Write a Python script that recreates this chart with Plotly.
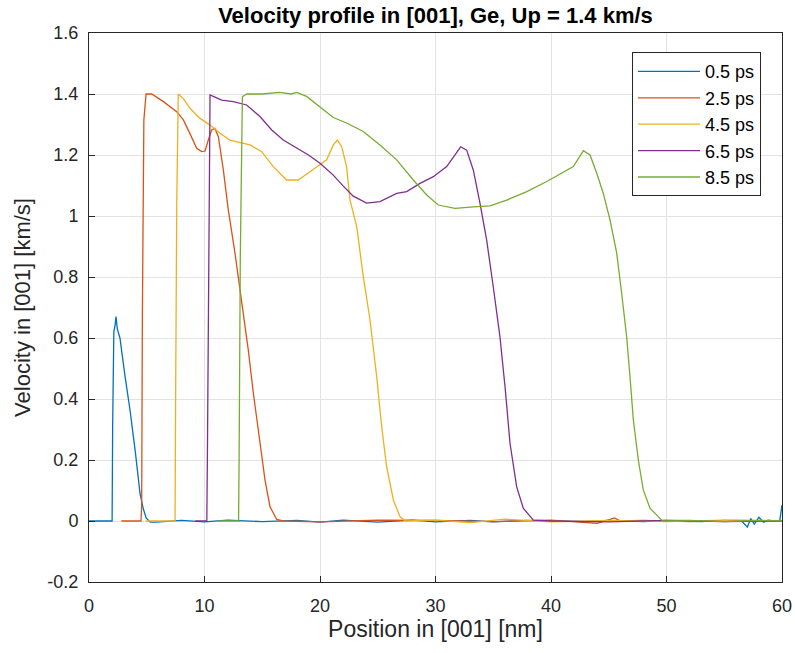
import plotly.graph_objects as go

title = "Velocity profile in [001], Ge, Up = 1.4 km/s"
x_title = "Position in [001] [nm]"
y_title = "Velocity in [001] [km/s]"

names = ["0.5 ps", "2.5 ps", "4.5 ps", "6.5 ps", "8.5 ps"]
colors = ["#0072BD", "#D95319", "#EDB120", "#7E2F8E", "#77AC30"]

x_05 = [0, 2.0, 2.05, 2.15, 2.25, 2.34, 2.45, 2.68, 3.1, 3.55, 4.0, 4.42, 4.7, 4.95, 5.3, 5.8, 8, 10, 12, 15,
        18, 20, 22, 25, 28, 30, 33, 35, 38, 40, 43, 45, 48, 50, 53, 55, 56.5, 57, 57.3, 57.6, 58.0, 58.4,
        58.8, 59.3, 59.8, 60]
y_05 = [0, 0, 0.32, 0.62, 0.64, 0.67, 0.63, 0.6, 0.48, 0.364, 0.23, 0.09, 0.04, 0.01, -0.004, -0.004, 0.002,
        -0.003, 0.003, -0.002, 0.002, -0.004, 0.003, -0.004, 0.003, -0.003, 0.002, -0.003, 0.002, 0.001,
        -0.002, 0.002, -0.002, 0.001, -0.002, 0.002, 0.0, -0.02, 0.008, -0.01, 0.012, -0.004, 0.003, 0.0,
        0.0, 0.052]

x_25 = [2.8, 4.5, 4.56, 4.62, 4.75, 4.94, 5.43, 6.44, 7.59, 8.17, 8.74, 9.32, 9.76, 10.05, 10.33, 10.62, 10.9,
        11.2, 11.63, 12.06, 12.64, 13.22, 13.79, 14.23, 14.8, 15.24, 15.67, 16.25, 16.8, 20, 25, 30, 35, 40,
        44, 45.5, 46, 48, 52, 56, 60]
y_25 = [0, 0, 0.05, 0.67, 1.315, 1.40, 1.40, 1.375, 1.342, 1.315, 1.27, 1.222, 1.211, 1.213, 1.249, 1.282,
        1.287, 1.26, 1.151, 1.02, 0.878, 0.725, 0.561, 0.419, 0.255, 0.134, 0.047, 0.005, 0, -0.003, 0.003,
        0.002, -0.002, 0.003, -0.008, 0.01, 0, 0.002, -0.002, 0.002, 0]

x_45 = [4.9, 7.45, 7.5, 7.6, 7.73, 8.17, 8.74, 9.61, 10.48, 11.34, 12.2, 13.07, 13.94, 14.95, 15.96, 17.11,
        18.12, 19.13, 20.58, 21.15, 21.5, 21.88, 22.3, 22.6, 23.18, 23.75, 24.33, 24.91, 25.34, 25.77, 26.35,
        26.93, 27.4, 30, 33, 36, 40, 45, 50, 55, 60]
y_45 = [0, 0, 0.41, 1.05, 1.40, 1.385, 1.353, 1.32, 1.298, 1.271, 1.249, 1.24, 1.233, 1.211, 1.162, 1.118,
        1.118, 1.145, 1.184, 1.233, 1.249, 1.227, 1.162, 1.052, 0.965, 0.801, 0.659, 0.473, 0.309, 0.178,
        0.069, 0.014, 0, 0.003, -0.005, 0.006, -0.003, 0.002, -0.002, 0.003, 0]

x_65 = [9.2, 10.2, 10.26, 10.36, 10.48, 10.76, 11.49, 12.49, 13.65, 14.8, 15.82, 16.82, 17.98, 19.0, 20.0,
        21.15, 22.02, 22.88, 24.04, 25.19, 26.64, 27.51, 28.66, 29.81, 30.97, 31.54, 32.18, 32.7, 33.27,
        33.85, 34.43, 35.0, 35.58, 36.02, 36.45, 37.03, 37.6, 38.47, 40, 45, 50, 55, 60]
y_65 = [0, 0, 0.255, 0.895, 1.397, 1.392, 1.38, 1.375, 1.364, 1.326, 1.282, 1.249, 1.222, 1.2, 1.173, 1.134,
        1.098, 1.065, 1.042, 1.047, 1.074, 1.08, 1.107, 1.129, 1.162, 1.194, 1.227, 1.216, 1.151, 1.042,
        0.921, 0.768, 0.604, 0.44, 0.255, 0.112, 0.042, 0.003, 0, -0.003, 0.002, -0.002, 0]

x_85 = [11.2, 12.95, 13.0, 13.1, 13.28, 13.65, 15, 16.5, 17.5, 17.98, 18.84, 20.0, 21.15, 22.3, 23.75, 25.19,
        26.64, 28.08, 29.24, 30.24, 31.69, 33.27, 34.72, 36.16, 37.9, 39.63, 41.36, 41.93, 42.8, 43.38,
        43.96, 44.53, 45.11, 45.69, 46.12, 46.55, 46.84, 47.13, 47.56, 47.99, 48.57, 49.58, 52, 55, 58, 60]
y_85 = [0, 0, 0.222, 0.867, 1.391, 1.40, 1.40, 1.405, 1.40, 1.405, 1.392, 1.358, 1.323, 1.305, 1.277, 1.233,
        1.184, 1.118, 1.069, 1.036, 1.025, 1.03, 1.033, 1.052, 1.08, 1.113, 1.151, 1.162, 1.214, 1.2, 1.14,
        1.074, 0.987, 0.878, 0.746, 0.604, 0.473, 0.331, 0.2, 0.102, 0.042, 0.003, 0.002, -0.002, 0.002, 0]

x_ticks = [0, 10, 20, 30, 40, 50, 60]
y_ticks = [-0.2, 0, 0.2, 0.4, 0.6, 0.8, 1, 1.2, 1.4, 1.6]
y_tick_text = ["-0.2", "0", "0.2", "0.4", "0.6", "0.8", "1", "1.2", "1.4", "1.6"]

xs = [x_05, x_25, x_45, x_65, x_85]
ys = [y_05, y_25, y_45, y_65, y_85]

fig = go.Figure()
for name, c, xv, yv in zip(names, colors, xs, ys):
    assert len(xv) == len(yv), name
    fig.add_trace(go.Scatter(x=xv, y=yv, mode="lines", name=name, legendgroup=name,
                             line=dict(color=c, width=1.3)))

font_family = "Liberation Sans, Arial, sans-serif"
axis_common = dict(showgrid=True, gridcolor="#e3e3e3", gridwidth=1, zeroline=False,
                   showline=True, linecolor="#262626", linewidth=1, mirror=True,
                   ticks="inside", ticklen=6, tickcolor="#262626", automargin=False,
                   tickfont=dict(family=font_family, size=18, color="#262626"))

fig.update_layout(
    width=795, height=653,
    margin=dict(l=89, r=13, t=33, b=71),
    paper_bgcolor="white", plot_bgcolor="white",
    font=dict(family=font_family, color="#262626"),
    title=dict(text="<b>" + title + "</b>", x=(89 + 782) / 2 / 795, xanchor="center",
               y=1 - 15 / 653, yanchor="middle",
               font=dict(family=font_family, size=22, color="#000000")),
    xaxis=dict(range=[0, 60], tickvals=x_ticks, ticklabelstandoff=7,
               title=dict(text=x_title, font=dict(family=font_family, size=23, color="#262626"), standoff=4),
               **axis_common),
    yaxis=dict(range=[-0.2, 1.6], tickvals=y_ticks, ticktext=y_tick_text, ticklabelstandoff=6,
               title=dict(text=y_title, font=dict(family=font_family, size=22, color="#262626"), standoff=10),
               **axis_common),
    legend=dict(x=(632 - 89) / 693, y=0.965, xanchor="left", yanchor="top",
                bgcolor="white", bordercolor="#262626", borderwidth=1,
                font=dict(family=font_family, size=18, color="#000000"),
                tracegroupgap=0, itemwidth=62),
    showlegend=True,
)

fig.write_html("out.html")
